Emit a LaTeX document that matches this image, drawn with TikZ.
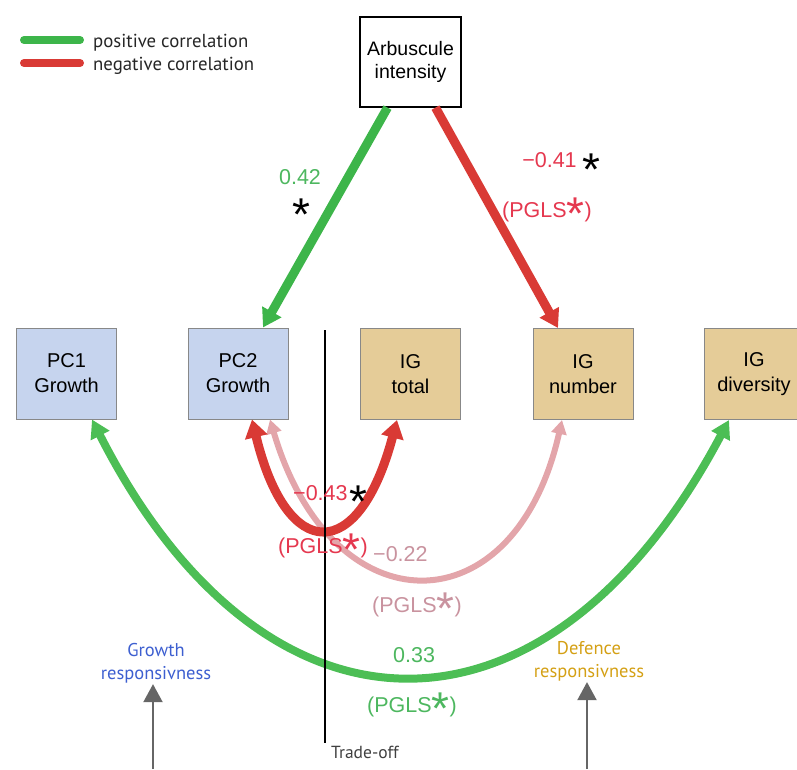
\documentclass[tikz,border=0pt]{standalone}
\usepackage{fontspec}
\setmainfont{Liberation Sans}
\newfontfamily\myriad{PT Sans}
\usetikzlibrary{arrows.meta,calc}
\definecolor{gArr}{HTML}{3DB54A}
\definecolor{gCur}{HTML}{4CBE55}
\definecolor{rArr}{HTML}{D93A35}
\definecolor{pCur}{HTML}{E3A5AA}
\definecolor{rTxt}{HTML}{E5384F}
\definecolor{pTxt}{HTML}{C9939F}
\definecolor{gTxt}{HTML}{4DB75F}
\definecolor{bTxt}{HTML}{3D5FD0}
\definecolor{oTxt}{HTML}{D4A015}
\definecolor{boxB}{HTML}{C6D4EE}
\definecolor{boxT}{HTML}{E5CC98}
\definecolor{boxL}{HTML}{888888}
\definecolor{grayA}{HTML}{666666}
\newcommand\pstar{\raisebox{-12pt}{\fontsize{46}{46}\selectfont *}}
\newcommand\pgls{(PGLS\pstar)}
\begin{document}
\begin{tikzpicture}[x=1pt,y=-1pt,
  box/.style={draw=boxL,line width=1pt,minimum width=100pt,minimum height=91pt,
    align=center,font=\fontsize{20}{25}\selectfont,inner sep=0pt},
  gbox/.style={box,fill=boxB},
  tbox/.style={box,fill=boxT},
  lab/.style={font=\fontsize{21.5}{21.5}\selectfont,inner sep=0pt},
  bstar/.style={font=\fontsize{46}{46}\selectfont,inner sep=0pt,anchor=base},
  legtxt/.style={font=\myriad\fontsize{18.8}{18.8}\selectfont,inner sep=0pt,anchor=base west,text=black!85},
  resp/.style={font=\myriad\fontsize{18.5}{23}\selectfont,inner sep=0pt,align=center},
  thickarr/.style={line width=9pt,-{Triangle[length=18pt,width=21pt]}},
]
\useasboundingbox (0,0) rectangle (797,769);

% legend
\node[legtxt] (l1) at (93,47) {positive correlation};
\node[legtxt] (l2) at (93,70) {negative correlation};
\coordinate (la) at (24,40); \coordinate (lb) at (80,40);
\coordinate (lc) at (24,63); \coordinate (ld) at (80,63);
\draw[gArr,line width=8pt,line cap=round] (la) -- (lb);
\draw[rArr,line width=8pt,line cap=round] (lc) -- (ld);

% boxes
\node[box,draw=black,line width=1.2pt,fill=white,minimum width=101pt,minimum height=90pt,font=\fontsize{19.5}{23}\selectfont] (arb) at (410.5,62) {Arbuscule\\intensity};
\node[gbox] (pc1) at (66.5,373.5) {PC1\\Growth};
\node[gbox] (pc2) at (238,373.5) {PC2\\Growth};
\node[tbox] (igt) at (410.5,374) {IG\\total};
\node[tbox] (ign) at (583,374) {IG\\number};
\node[tbox] (igd) at (754,374) {IG\\diversity};

% straight arrows
\draw[gArr,thickarr] ([xshift=-23pt]arb.south) -- ([xshift=25pt]pc2.north);
\draw[rArr,thickarr] ([xshift=25pt]arb.south) -- ([xshift=-25pt]ign.north);

% labels of straight arrows
\node[lab,text=gTxt] (t042) at (300,177) {0.42};
\node[bstar] (s042) at (301,230) {*};
\node[lab,text=rTxt] (t041) at (549.5,160) {−0.41};
\node[bstar] (s041) at (591,185) {*};
\node[lab,text=rTxt,anchor=base west] (p041) at (502,217) {\pgls};

% curves
\draw[gCur,line width=8pt,{Triangle[length=18pt,width=20pt]}-{Triangle[length=18pt,width=20pt]}]
  ([xshift=25.5pt]pc1.south) .. controls (265,760) and (549,760) .. ([xshift=-25pt]igd.south);
\draw[pCur,line width=6pt,{Triangle[length=14pt,width=15pt]}-{Triangle[length=14pt,width=15pt]}]
  ([xshift=32pt]pc2.south) .. controls (332,630) and (515,630) .. ([xshift=-21pt]ign.south);
\draw[rArr,line width=9pt,{Triangle[length=18pt,width=22pt]}-{Triangle[length=18pt,width=22pt]}]
  ([xshift=14pt]pc2.south) .. controls (287,564) and (359,564) .. ([xshift=-13.5pt]igt.south);

% trade-off line
\coordinate (tA) at (325,330);
\coordinate (tB) at (325,743);
\draw[black,line width=1.5pt] (tA) -- (tB);
\node[font=\myriad\fontsize{17.5}{17.5}\selectfont,text=black!75,anchor=west,inner sep=0pt] (trade) at (331,752) {Trade-off};

% curve labels
\node[lab,text=rTxt,anchor=base west] (t043) at (293,500) {−0.43};
\node[bstar] (s043) at (358,517) {*};
\node[lab,text=rTxt,anchor=base west] (p043) at (278,553) {\pgls};
\node[lab,text=pTxt,anchor=base west] (t022) at (373,561) {−0.22};
\node[lab,text=pTxt,anchor=base west] (p022) at (372,612) {\pgls};
\node[lab,text=gTxt,anchor=base west] (t033) at (393,662) {0.33};
\node[lab,text=gTxt,anchor=base west] (p033) at (367,712) {\pgls};

% responsiveness
\node[resp,text=bTxt] (gr) at (156,663) {Growth\\responsivness};
\node[resp,text=oTxt] (dr) at (589,661) {Defence\\responsivness};
\coordinate (ga) at (153,769);
\coordinate (da) at (587,769);
\draw[grayA,line width=2pt,-{Triangle[length=18pt,width=19pt]}] (ga) -- ([yshift=-1pt]gr.south -| ga);
\draw[grayA,line width=2pt,-{Triangle[length=18pt,width=19pt]}] (da) -- ([yshift=-1pt]dr.south -| da);
\end{tikzpicture}
\end{document}
